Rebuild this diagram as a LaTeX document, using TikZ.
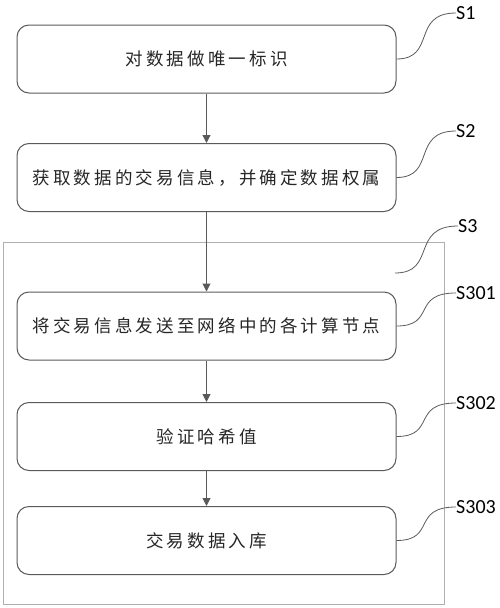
\documentclass[tikz,border=0pt]{standalone}
\usepackage{fontspec}
\newfontfamily\cjk[LetterSpace=18]{Noto Sans CJK SC}
\newfontfamily\lab{Carlito}
\usetikzlibrary{arrows.meta}
\definecolor{boxline}{HTML}{5A5A5A}
\definecolor{frameline}{HTML}{B0B0B0}
\tikzset{
  x=1pt, y=-1pt,
  stepbox/.style={draw=boxline, line width=1pt, rounded corners=12pt,
    minimum width=379pt, minimum height=68pt, inner sep=0pt,
    font=\cjk\fontsize{17.5}{19}\selectfont, text=black!85},
  flow/.style={draw=boxline, line width=1pt, -{Triangle[length=8pt,width=8pt]}},
  tag/.style={font=\lab\fontsize{20}{22}\selectfont, anchor=west, inner sep=0pt, text=black},
  leader/.style={draw=boxline, line width=0.8pt},
}
\begin{document}
\begin{tikzpicture}
\useasboundingbox (0,0) rectangle (500,608);
\node[draw=frameline, line width=0.8pt, minimum width=441pt, minimum height=362pt, inner sep=0pt, anchor=north west] (frame) at (3,242) {};
\node[stepbox] (s1) at (206.5,59) {对数据做唯一标识};
\node[stepbox] (s2) at (206.5,177.5) {获取数据的交易信息，并确定数据权属};
\node[stepbox] (s301) at (206.5,326) {将交易信息发送至网络中的各计算节点};
\node[stepbox] (s302) at (206.5,436.5) {验证哈希值};
\node[stepbox] (s303) at (206.5,540.5) {交易数据入库};
\draw[flow] (s1) -- (s2);
\draw[flow] (s2) -- (s301);
\draw[flow] (s301) -- (s302);
\draw[flow] (s302) -- (s303);
\node[tag] (l1) at (456,13) {S1};
\node[tag] (l2) at (456,131) {S2};
\node[tag] (l3) at (458,226) {S3};
\node[tag] (l301) at (456,293) {S301};
\node[tag] (l302) at (456,403) {S302};
\node[tag] (l303) at (456,507) {S303};
\coordinate (c3) at (395,273);
\draw[leader] (s1.east) .. controls +(40,0) and ([xshift=-45pt]l1.west) .. (l1.west);
\draw[leader] (s2.east) .. controls +(40,0) and ([xshift=-45pt]l2.west) .. (l2.west);
\draw[leader] (c3) .. controls +(42,0) and ([xshift=-48pt]l3.west) .. (l3.west);
\draw[leader] (s301.east) .. controls +(40,0) and ([xshift=-45pt]l301.west) .. (l301.west);
\draw[leader] (s302.east) .. controls +(40,0) and ([xshift=-45pt]l302.west) .. (l302.west);
\draw[leader] (s303.east) .. controls +(40,0) and ([xshift=-45pt]l303.west) .. (l303.west);
\end{tikzpicture}
\end{document}
